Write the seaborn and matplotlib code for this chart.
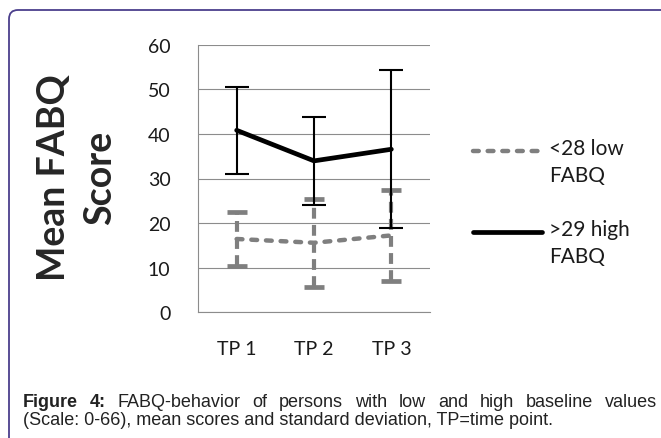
import matplotlib
matplotlib.use("Agg")
import matplotlib.pyplot as plt
import matplotlib.transforms as mtransforms
from matplotlib.patches import FancyBboxPatch
from matplotlib.lines import Line2D
import pandas as pd
import seaborn as sns

# values
time_points = ["TP 1", "TP 2", "TP 3"]
low_mean = [16.45, 15.6, 17.25]
low_sd = [6.15, 9.8, 10.15]
high_mean = [40.8, 33.95, 36.55]
high_sd = [9.8, 9.85, 17.65]
series_labels = ["<28 low\nFABQ", ">29 high\nFABQ"]
y_ticks = [0, 10, 20, 30, 40, 50, 60]

GRAY = "#7f7f7f"
GRID = "#8c8c8c"
BORDER = "#4b3f8c"
W, H = 661, 439

sns.set_style("white")
plt.rcParams["font.family"] = ["Lato", "DejaVu Sans"]

low_df = pd.DataFrame({"pos": range(len(time_points)), "mean": low_mean, "sd": low_sd})
high_df = pd.DataFrame({"pos": range(len(time_points)), "mean": high_mean, "sd": high_sd})

fig = plt.figure(figsize=(W / 100, H / 100), dpi=100)
ax = fig.add_axes([198 / W, 1 - 313.4 / H, (430 - 198) / W, (313.4 - 45.6) / H])

# low group: gray dashed
sns.lineplot(data=low_df, x="pos", y="mean", ax=ax, color=GRAY, linewidth=3.2,
             zorder=3)
low_line = ax.lines[-1]
low_line.set_dashes((1.3, 2.0))
low_line.set_dash_capstyle("round")
eb = ax.errorbar(low_df["pos"], low_df["mean"], yerr=low_df["sd"], fmt="none",
                 ecolor=GRAY, elinewidth=3.0, capsize=7, capthick=3.4, zorder=2)
eb[2][0].set_linestyle((0, (2.6, 1.5)))

# high group: black solid
sns.lineplot(data=high_df, x="pos", y="mean", ax=ax, color="black", linewidth=3.4,
             zorder=5)
ax.errorbar(high_df["pos"], high_df["mean"], yerr=high_df["sd"], fmt="none",
            ecolor="black", elinewidth=1.5, capsize=8.5, capthick=1.5, zorder=4)

ax.set_xlim(-0.5, len(time_points) - 0.5)
ax.set_ylim(0, 60)
ax.set_yticks(y_ticks)
ax.set_yticklabels([str(t) for t in y_ticks])
ax.set_xticks([i - 0.5 for i in range(len(time_points) + 1)])
ax.set_xticklabels([])
ax.set_xticks(range(len(time_points)), minor=True)
ax.set_xticklabels(time_points, minor=True)
ax.tick_params(axis="x", which="major", length=5.8, width=0.8, color=GRID, direction="out")
ax.tick_params(axis="x", which="minor", length=0, pad=20, labelsize=14, labelcolor="#1a1a1a")
ax.tick_params(axis="y", length=5.8, width=0.8, color=GRID, direction="out", pad=14,
               labelsize=14, labelcolor="#1a1a1a")
ax.yaxis.grid(True, color=GRID, linewidth=0.8)
ax.set_axisbelow(True)
for side in ["top", "right"]:
    ax.spines[side].set_visible(False)
for side in ["left", "bottom"]:
    ax.spines[side].set_color(GRID)
    ax.spines[side].set_linewidth(0.8)
ax.set_xlabel("")
ax.set_ylabel("")

# y label
fig.text(77 / W, 1 - 178 / H, "Mean FABQ\nScore", rotation=90, ha="center", va="center",
         multialignment="center", fontsize=27, fontweight="bold", linespacing=1.45)

# legend drawn by hand next to the plot
fig.add_artist(Line2D([473 / W, 542 / W], [1 - 152 / H] * 2, color=GRAY, linewidth=3.2,
                      dashes=(1.3, 2.0), dash_capstyle="round"))
fig.add_artist(Line2D([473 / W, 542 / W], [1 - 233 / H] * 2, color="black", linewidth=3.4))
fig.text(549 / W, 1 - 139 / H, series_labels[0], ha="left", va="top", fontsize=15,
         linespacing=1.45, color="#1a1a1a")
fig.text(549 / W, 1 - 220 / H, series_labels[1], ha="left", va="top", fontsize=15,
         linespacing=1.45, color="#1a1a1a")

# rounded frame
frame = FancyBboxPatch((9, -40), 720, H - 11 + 40, boxstyle="round,pad=0,rounding_size=9",
                       transform=mtransforms.IdentityTransform(), fill=False,
                       edgecolor=BORDER, linewidth=1.3)
fig.add_artist(frame)

# caption, first line justified
cap_font = ["Liberation Sans", "DejaVu Sans"]
cap_size = 13
words1 = [("Figure", True), ("4:", True), ("FABQ-behavior", False), ("of", False),
          ("persons", False), ("with", False), ("low", False), ("and", False),
          ("high", False), ("baseline", False), ("values", False)]
fig.canvas.draw()
renderer = fig.canvas.get_renderer()
texts = []
for w, bold in words1:
    t = fig.text(0, 1 - 407 / H, w, fontsize=cap_size, family=cap_font,
                 fontweight="bold" if bold else "normal", va="baseline", color="#222222")
    texts.append(t)
widths = [t.get_window_extent(renderer).width for t in texts]
x0, x1 = 23, 657
gap = (x1 - x0 - sum(widths)) / (len(widths) - 1)
x = x0
for t, wd in zip(texts, widths):
    t.set_x(x / W)
    x += wd + gap
fig.text(23 / W, 1 - 425 / H, "(Scale: 0-66), mean scores and standard deviation, TP=time point.",
         fontsize=cap_size, family=cap_font, va="baseline", color="#222222")

fig.savefig("out.png", dpi=100)
